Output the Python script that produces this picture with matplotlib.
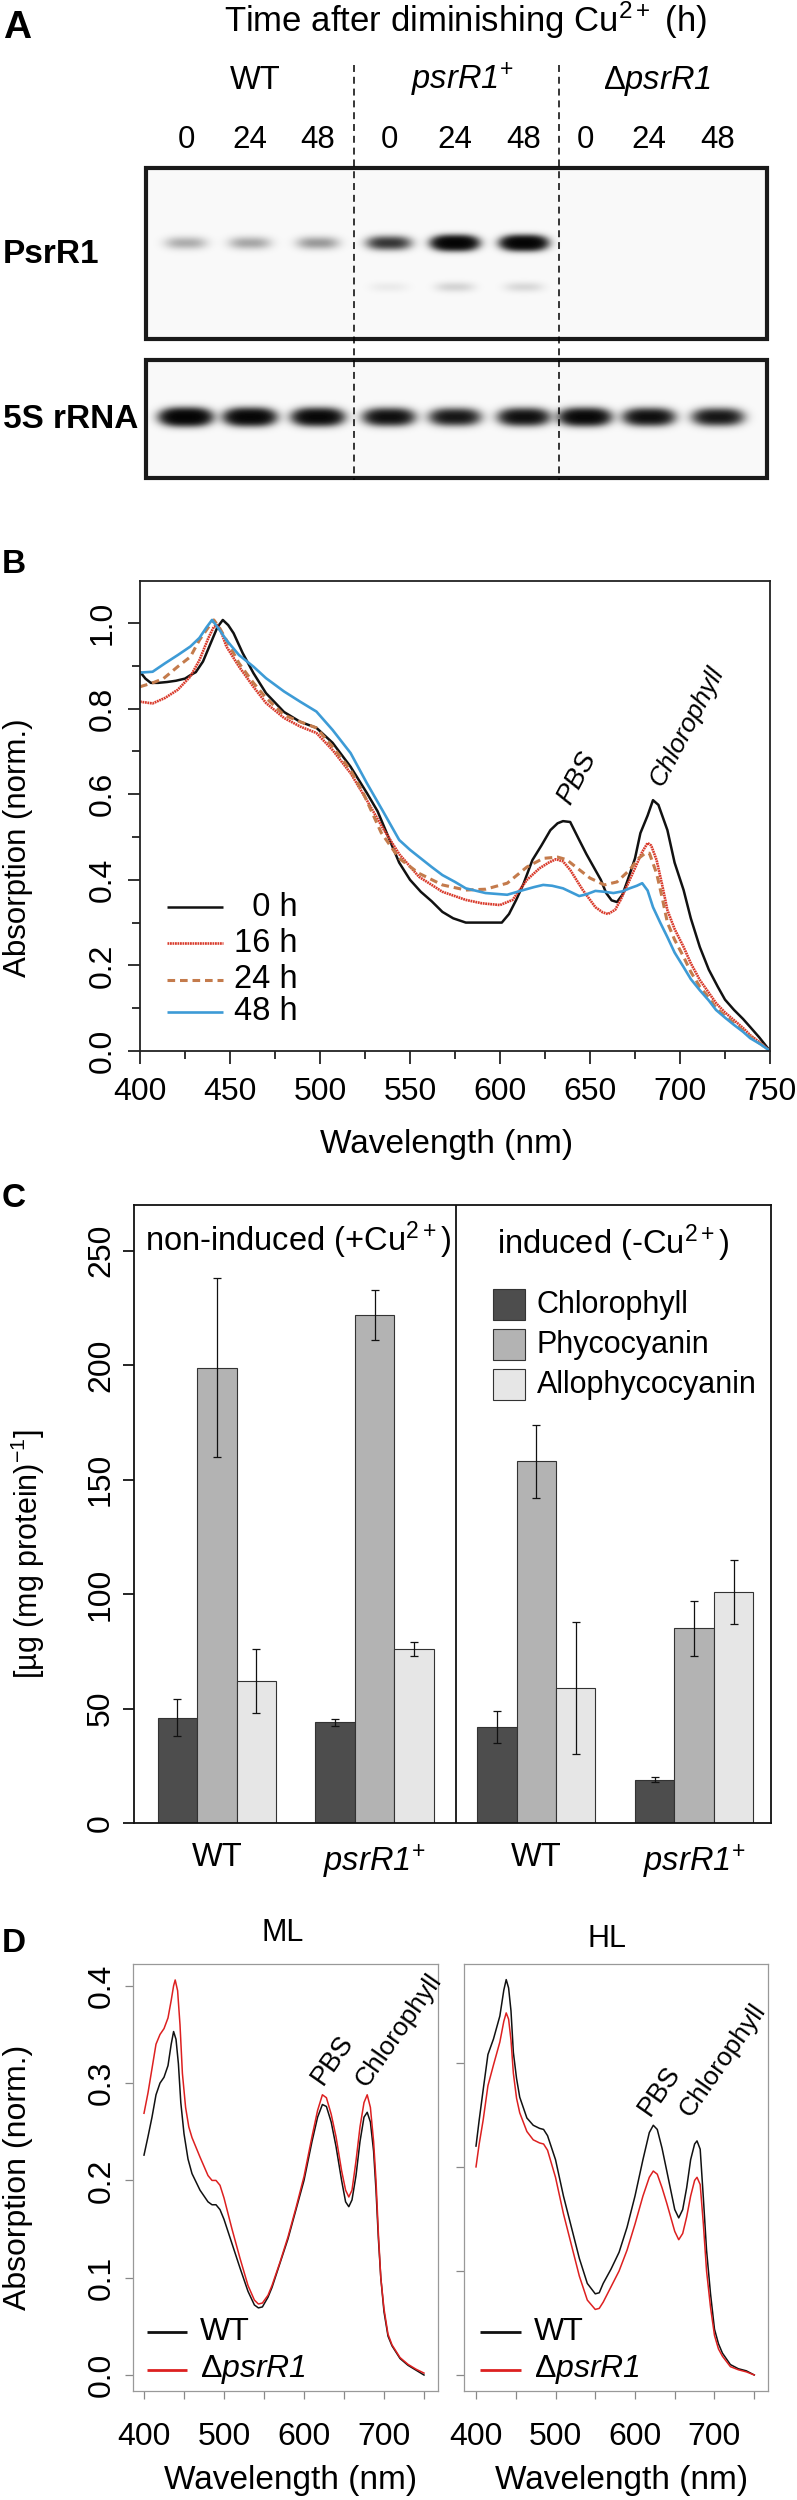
import numpy as np
import matplotlib
matplotlib.use('Agg')
import matplotlib.pyplot as plt
from matplotlib.patches import Rectangle

plt.rcParams['font.family'] = ['Liberation Sans', 'DejaVu Sans']
plt.rcParams['mathtext.fontset'] = 'custom'
plt.rcParams['mathtext.rm'] = 'Liberation Sans'
plt.rcParams['mathtext.it'] = 'Liberation Sans:italic'
plt.rcParams['mathtext.sf'] = 'Liberation Sans:italic'
plt.rcParams['mathtext.bf'] = 'Liberation Sans:bold'
plt.rcParams['lines.scale_dashes'] = False

# ---------------- DATA ----------------
# Panel A (northern blot band intensities, relative)
lane_labels = ['0', '24', '48', '0', '24', '48', '0', '24', '48']
strain_labels = ['WT', r'$\mathsf{psrR1}^{+}$', 'Δ$\mathsf{psrR1}$']
psrR1_band = [0.09, 0.10, 0.12, 0.38, 1.0, 1.0, 0.0, 0.0, 0.0]
psrR1_minor = [0.0, 0.0, 0.0, 0.015, 0.04, 0.035, 0.0, 0.0, 0.0]
rRNA5S_band = [1.0, 0.9, 0.85, 0.7, 0.6, 0.7, 0.85, 0.7, 0.6]

# Panel B spectra (wavelength nm, normalized absorption)
spec_0h = [(400, .886), (403, .87), (406, .86), (410, .86), (415, .862), (420, .865), (425, .87),
           (428, .878), (431, .885), (435, .91), (439, .95), (443, .99), (446, 1.007), (449, .995),
           (452, .976), (457, .93), (463, .883), (470, .836), (480, .792), (489, .769), (498, .755),
           (507, .72), (517, .664), (526, .603), (532, .56), (538, .50), (544, .44), (550, .40),
           (556, .372), (562, .35), (568, .325), (574, .31), (581, .30), (590, .30), (601, .30),
           (605, .32), (609, .353), (613, .39), (618, .446), (623, .48), (628, .516), (632, .532),
           (635, .537), (639, .535), (644, .493), (648, .46), (652, .43), (656, .40), (659, .369),
           (662, .352), (665, .348), (668, .365), (671, .40), (675, .45), (678, .509), (682, .55),
           (685, .586), (688, .575), (693, .516), (697, .44), (702, .376), (706, .31), (711, .243),
           (716, .19), (721, .15), (725, .12), (730, .096), (735, .075), (739, .056), (744, .032),
           (750, 0.0)]
spec_16h = [(400, .816), (407, .812), (414, .825), (421, .844), (428, .875), (433, .913), (438, .965),
            (441, .991), (443, .995), (445, .98), (448, .945), (455, .898), (463, .851), (470, .813),
            (480, .778), (489, .758), (498, .743), (507, .703), (517, .649), (526, .586), (535, .52),
            (544, .46), (555, .407), (568, .372), (581, .353), (590, .345), (600, .341), (607, .353),
            (615, .40), (622, .427), (627, .44), (631, .448), (635, .443), (639, .423), (646, .376),
            (653, .336), (657, .324), (660, .32), (664, .33), (667, .353), (674, .418), (679, .465),
            (682, .486), (684, .48), (687, .446), (690, .39), (693, .329), (697, .285), (702, .243),
            (706, .205), (711, .166), (716, .136), (720, .112), (725, .09), (730, .072), (735, .054),
            (739, .037), (745, .018), (750, 0.0)]
spec_24h = [(400, .851), (407, .86), (413, .87), (421, .898), (428, .921), (433, .96), (438, .99),
            (441, 1.007), (444, .99), (448, .96), (455, .906), (463, .86), (470, .825), (480, .785),
            (489, .769), (498, .755), (507, .711), (517, .656), (524, .603), (534, .51), (544, .45),
            (555, .415), (568, .388), (581, .376), (592, .378), (604, .392), (615, .43), (624, .45),
            (632, .453), (637, .447), (643, .427), (650, .404), (658, .388), (665, .395), (672, .423),
            (677, .45), (681, .463), (683, .462), (687, .415), (690, .36), (693, .30), (697, .26),
            (702, .22), (706, .185), (711, .15), (716, .125), (720, .10), (725, .082), (730, .065),
            (735, .048), (739, .033), (745, .016), (750, 0.0)]
spec_48h = [(400, .884), (407, .886), (414, .906), (421, .925), (428, .945), (433, .965), (437, .99),
            (440, 1.007), (444, .985), (448, .96), (455, .925), (463, .898), (470, .871), (480, .84),
            (489, .816), (498, .793), (507, .75), (517, .696), (526, .626), (535, .56), (544, .493),
            (550, .47), (556, .45), (562, .43), (568, .411), (575, .395), (581, .38), (592, .369),
            (604, .365), (613, .376), (619, .383), (624, .388), (629, .386), (635, .38), (640, .37),
            (644, .362), (648, .366), (653, .374), (658, .372), (663, .369), (668, .373), (672, .38),
            (676, .386), (679, .392), (682, .375), (685, .336), (689, .30), (693, .266), (697, .23),
            (702, .196), (706, .168), (711, .142), (716, .118), (720, .096), (725, .078), (730, .061),
            (735, .045), (739, .03), (745, .015), (750, 0.0)]
b_labels = ['  0 h', '16 h', '24 h', '48 h']

# Panel C pigment contents
c_groups = ['WT', r'$\mathsf{psrR1}^{+}$', 'WT', r'$\mathsf{psrR1}^{+}$']
chl = [46, 44, 42, 19]
chl_err = [8, 1.5, 7, 1.2]
pc = [199, 222, 158, 85]
pc_err = [39, 11, 16, 12]
apc = [62, 76, 59, 101]
apc_err = [14, 3, 29, 14]
pigments = ['Chlorophyll', 'Phycocyanin', 'Allophycocyanin']

# Panel D spectra
ml_wt = [(400, .226), (405, .245), (410, .265), (415, .288), (420, .30), (425, .306), (430, .318),
         (434, .34), (437, .353), (440, .345), (443, .32), (446, .28), (450, .248), (455, .222),
         (460, .207), (470, .19), (480, .178), (485, .175), (490, .175), (495, .17), (500, .16),
         (510, .135), (520, .11), (530, .086), (538, .072), (543, .069), (548, .07), (555, .08),
         (560, .09), (570, .115), (580, .14), (590, .17), (600, .2), (610, .24), (617, .265),
         (623, .278), (628, .276), (634, .26), (640, .235), (647, .2), (652, .178), (656, .173),
         (660, .18), (665, .205), (670, .24), (675, .265), (679, .27), (683, .26), (687, .23),
         (690, .19), (693, .14), (696, .1), (700, .065), (705, .04), (710, .03), (720, .017),
         (730, .01), (740, .005), (750, .0)]
ml_ko = [(400, .269), (405, .29), (410, .315), (415, .34), (420, .35), (425, .356), (430, .367),
         (434, .385), (437, .4), (439, .406), (442, .395), (445, .36), (448, .31), (452, .275),
         (456, .255), (460, .244), (470, .224), (480, .205), (485, .2), (490, .2), (495, .195),
         (500, .182), (510, .15), (520, .12), (530, .092), (538, .077), (543, .073), (548, .074),
         (555, .082), (560, .092), (570, .116), (580, .142), (590, .172), (600, .204), (610, .245),
         (617, .272), (623, .288), (628, .285), (634, .268), (640, .245), (647, .21), (652, .19),
         (656, .183), (660, .19), (665, .22), (670, .255), (675, .28), (679, .288), (683, .275),
         (687, .24), (690, .2), (693, .145), (696, .1), (700, .068), (705, .042), (710, .031),
         (720, .018), (730, .011), (740, .006), (750, .002)]
hl_wt = [(400, .22), (404, .245), (409, .274), (415, .308), (422, .323), (430, .345), (435, .37),
         (438, .38), (441, .372), (444, .35), (447, .31), (451, .285), (455, .267), (464, .247),
         (472, .24), (480, .237), (485, .236), (490, .23), (500, .207), (510, .172), (520, .142),
         (530, .112), (540, .088), (550, .078), (555, .079), (560, .088), (570, .102), (580, .118),
         (590, .142), (600, .172), (610, .207), (618, .233), (623, .24), (628, .236), (634, .218),
         (640, .196), (650, .159), (655, .151), (660, .159), (665, .18), (670, .207), (675, .222),
         (678, .225), (682, .217), (686, .17), (690, .12), (695, .078), (700, .044), (705, .03),
         (710, .021), (720, .01), (730, .006), (740, .004), (750, .0)]
hl_ko = [(400, .2), (404, .222), (409, .245), (415, .278), (422, .298), (430, .32), (435, .34),
         (438, .348), (441, .342), (444, .322), (447, .29), (451, .266), (455, .252), (464, .234),
         (472, .226), (480, .223), (485, .222), (490, .216), (500, .19), (510, .155), (520, .125),
         (530, .095), (540, .072), (550, .063), (555, .064), (560, .07), (570, .085), (580, .1),
         (590, .12), (600, .145), (610, .172), (618, .19), (623, .196), (628, .193), (634, .18),
         (640, .165), (650, .138), (655, .13), (660, .136), (665, .152), (670, .172), (675, .187),
         (678, .19), (682, .183), (686, .145), (690, .1), (695, .065), (700, .038), (705, .025),
         (710, .018), (720, .008), (730, .005), (740, .003), (750, .0)]
d_labels = ['WT', 'Δ$\mathsf{psrR1}$']

# ---------------- FIGURE ----------------
W, H = 797, 2500
fig = plt.figure(figsize=(W / 100, H / 100), dpi=100)


def rect(x0, y0, x1, y1):
    return [x0 / W, 1 - y1 / H, (x1 - x0) / W, (y1 - y0) / H]


def xy(s):
    a = np.array(s, dtype=float)
    return a[:, 0], a[:, 1]


cv = fig.add_axes([0, 0, 1, 1], zorder=10)
cv.patch.set_alpha(0)
cv.axis('off')

# ---------------- Panel A ----------------
lane_x = [186, 250, 318, 389, 455, 524, 585, 649, 718]


def gel_image(x0, x1, y0, y1, layers):
    xs = np.arange(x0, x1) + 0.5
    ys = np.arange(y0, y1) + 0.5
    X, Y = np.meshgrid(xs, ys)
    dens = np.full_like(X, 0.006)
    for amps, yc, sx, sy in layers:
        for xc, a in zip(lane_x, amps):
            dens += a * np.exp(-np.abs((X - xc) / sx) ** 3) * np.exp(-((Y - yc) / sy) ** 2)
    return 1 - np.exp(-4 * dens)


img1 = gel_image(146, 767, 168, 339, [(psrR1_band, 243, 20, 6.0), (psrR1_minor, 287, 19, 5)])
cv.imshow(img1, cmap='gray_r', vmin=0, vmax=1, extent=(146, 767, 339, 168),
          interpolation='bilinear', aspect='auto', zorder=1)
img2 = gel_image(146, 767, 360, 478, [(rRNA5S_band, 417, 22, 7.0)])
cv.imshow(img2, cmap='gray_r', vmin=0, vmax=1, extent=(146, 767, 478, 360),
          interpolation='bilinear', aspect='auto', zorder=1)
for (yy0, yy1) in [(168, 339), (360, 478)]:
    cv.add_patch(Rectangle((146, yy0), 621, yy1 - yy0, fill=False, lw=3.0, ec='#1a1a1a', zorder=3))
for xd in [354, 559]:
    cv.plot([xd, xd], [65, 480], color='black', lw=1.1, dashes=(5, 3.5), zorder=4)

cv.text(3, 38, 'A', fontsize=28, fontweight='bold', ha='left', va='baseline')
cv.text(466, 20, r'Time after diminishing Cu$^{2+}$ (h)', fontsize=25, ha='center', va='center')
for xs_, lab in zip([255, 462, 657], strain_labels):
    cv.text(xs_, 89, lab, fontsize=23.5, ha='center', va='baseline')
for xc, lab in zip(lane_x, lane_labels):
    cv.text(xc, 148, lab, fontsize=22.5, ha='center', va='baseline')
cv.text(3, 263, 'PsrR1', fontsize=24, fontweight='bold', ha='left', va='baseline')
cv.text(3, 428, '5S rRNA', fontsize=24, fontweight='bold', ha='left', va='baseline')

# ---------------- Panel B ----------------
axB = fig.add_axes(rect(140, 581, 770, 1051))
b_series = [spec_0h, spec_16h, spec_24h, spec_48h]
b_colors = ['#111111', '#d93a2b', '#c47b4c', '#3d9bd6']
b_styles = [dict(lw=1.8), dict(lw=1.9, dashes=(1.3, 0.5)), dict(lw=2.2, dashes=(5.5, 3.5)), dict(lw=1.9)]
for s, c, st in zip(b_series, b_colors, b_styles):
    x_, y_ = xy(s)
    axB.plot(x_, y_, color=c, solid_capstyle='butt', **st)
axB.set_xlim(400, 750)
axB.set_ylim(0, 1.098)
for sp in axB.spines.values():
    sp.set_linewidth(1.3)
    sp.set_color('#222222')
axB.set_xticks(np.arange(400, 751, 50))
axB.set_xticks(np.arange(425, 750, 50), minor=True)
axB.set_yticks(np.arange(0, 1.01, 0.2))
axB.set_yticklabels(['%.1f' % v for v in np.arange(0, 1.01, 0.2)])
axB.set_yticks(np.arange(0.1, 1.0, 0.2), minor=True)
axB.tick_params(axis='both', which='major', length=9, width=1.3, labelsize=23, color='#222222')
axB.tick_params(axis='both', which='minor', length=5.5, width=1.3, color='#222222')
axB.tick_params(axis='y', labelrotation=90, pad=7)
axB.tick_params(axis='x', pad=10)
for lab in axB.get_yticklabels():
    lab.set_va('center')

leg_y = [907, 943, 980, 1012]
for yy, c, st, lab in zip(leg_y, b_colors, b_styles, b_labels):
    cv.plot([167, 223], [yy, yy], color=c, solid_capstyle='butt', **st)
    cv.text(298, yy, lab, fontsize=23.5, ha='right', va='center')
cv.text(447, 1144, 'Wavelength (nm)', fontsize=24, ha='center', va='center')
cv.text(18, 848, 'Absorption (norm.)', fontsize=22.5, ha='center', va='center', rotation=90)
cv.text(577, 778, 'PBS', fontsize=20, style='italic', ha='center', va='center', rotation=62)
cv.text(687, 726, 'Chlorophyll', fontsize=19, style='italic', ha='center', va='center', rotation=62)
cv.text(2, 573, 'B', fontsize=24, fontweight='bold', ha='left', va='baseline')

# ---------------- Panel C ----------------
axC = fig.add_axes(rect(134, 1205, 771, 1823))
group_start = np.array([1, 5, 9.1, 13.1])
c_colors = ['#4d4d4d', '#b3b3b3', '#e6e6e6']
for k, (vals, errs, col) in enumerate(zip([chl, pc, apc], [chl_err, pc_err, apc_err], c_colors)):
    xpos = group_start + 0.5 + k
    axC.bar(xpos, vals, width=1.0, color=col, edgecolor='#333333', linewidth=0.8, zorder=2)
    axC.errorbar(xpos, vals, yerr=errs, fmt='none', ecolor='#111111', elinewidth=0.9,
                 capsize=3.2, capthick=0.9, zorder=3)
axC.set_xlim(0.4, 16.55)
axC.set_ylim(0, 270)
axC.axvline(8.56, color='#111111', lw=1.3)
for sp in axC.spines.values():
    sp.set_linewidth(1.3)
    sp.set_color('#111111')
axC.set_yticks(np.arange(0, 251, 50))
axC.tick_params(axis='y', length=8, width=1.2, labelsize=23, labelrotation=90, pad=5)
for lab in axC.get_yticklabels():
    lab.set_va('center')
axC.set_xticks(group_start + 1.5)
axC.set_xticklabels(c_groups)
axC.tick_params(axis='x', length=0, labelsize=23.5, pad=14)
cv.text(298, 1240, r'non-induced (+Cu$^{2+}$)', fontsize=23.5, ha='center', va='center')
cv.text(613, 1243, r'induced (-Cu$^{2+}$)', fontsize=23.5, ha='center', va='center')
for yy, col, lab in zip([1305, 1345, 1385], c_colors, pigments):
    cv.add_patch(Rectangle((493, yy - 16), 32, 31, fc=col, ec='#333333', lw=0.8, zorder=5))
    cv.text(537, yy, lab, fontsize=22, ha='left', va='center')
cv.text(28, 1554, r'[µg (mg protein)$^{-1}$]', fontsize=22, ha='center', va='center', rotation=90)
cv.text(2, 1207, 'C', fontsize=24, fontweight='bold', ha='left', va='baseline')

# ---------------- Panel D ----------------
d_colors = ['#111111', '#dd2020']


def spec_axes(r, series, ylim, yticks, ylabels):
    ax = fig.add_axes(r)
    for s, c in zip(series, d_colors):
        x_, y_ = xy(s)
        ax.plot(x_, y_, color=c, lw=1.1)
    ax.set_ylim(*ylim)
    for sp in ax.spines.values():
        sp.set_linewidth(0.9)
        sp.set_color('#999999')
    ax.set_xticks(np.arange(400, 751, 50))
    ax.set_xticklabels(['400', '', '500', '', '600', '', '700', ''])
    ax.set_yticks(yticks)
    if ylabels:
        ax.set_yticklabels(ylabels)
    else:
        ax.set_yticklabels([''] * len(yticks))
    ax.tick_params(axis='both', length=6, width=0.9, color='#888888', labelsize=23)
    ax.tick_params(axis='y', labelrotation=90, pad=6)
    ax.tick_params(axis='x', pad=16)
    for lab in ax.get_yticklabels():
        lab.set_va('center')
    return ax


axML = spec_axes(rect(133, 1964, 438, 2391), [ml_wt, ml_ko], (-0.0164, 0.4224),
                 [0, 0.1, 0.2, 0.3, 0.4], ['0.0', '0.1', '0.2', '0.3', '0.4'])
axML.set_xlim(386.25, 767.5)
axHL = spec_axes(rect(464, 1964, 768, 2391), [hl_wt, hl_ko], (-0.0154, 0.395),
                 [0, 0.1, 0.2, 0.3], None)
axHL.set_xlim(384.9, 767.3)

cv.text(283, 1933, 'ML', fontsize=22, ha='center', va='center')
cv.text(607, 1939, 'HL', fontsize=22, ha='center', va='center')
cv.text(18, 2177, 'Absorption (norm.)', fontsize=23, ha='center', va='center', rotation=90)
cv.text(291, 2480, 'Wavelength (nm)', fontsize=24, ha='center', va='center')
cv.text(622, 2480, 'Wavelength (nm)', fontsize=24, ha='center', va='center')
for (lx0, lx1, tx) in [(147, 187, 200), (480, 521, 534)]:
    for yy, c, lab in zip([2332, 2370], d_colors, d_labels):
        cv.plot([lx0, lx1], [yy, yy], color=c, lw=2.0, solid_capstyle='butt')
        cv.text(tx, yy, lab, fontsize=23, ha='left', va='center')
cv.text(333, 2060, 'PBS', fontsize=19.5, ha='center', va='center', rotation=55)
cv.text(399, 2030, 'Chlorophyll', fontsize=19, ha='center', va='center', rotation=55)
cv.text(660, 2091, 'PBS', fontsize=19.5, ha='center', va='center', rotation=55)
cv.text(723, 2060, 'Chlorophyll', fontsize=19, ha='center', va='center', rotation=55)
cv.text(2, 1952, 'D', fontsize=24, fontweight='bold', ha='left', va='baseline')

cv.set_xlim(0, W)
cv.set_ylim(H, 0)

fig.savefig('out.png', dpi=100)
